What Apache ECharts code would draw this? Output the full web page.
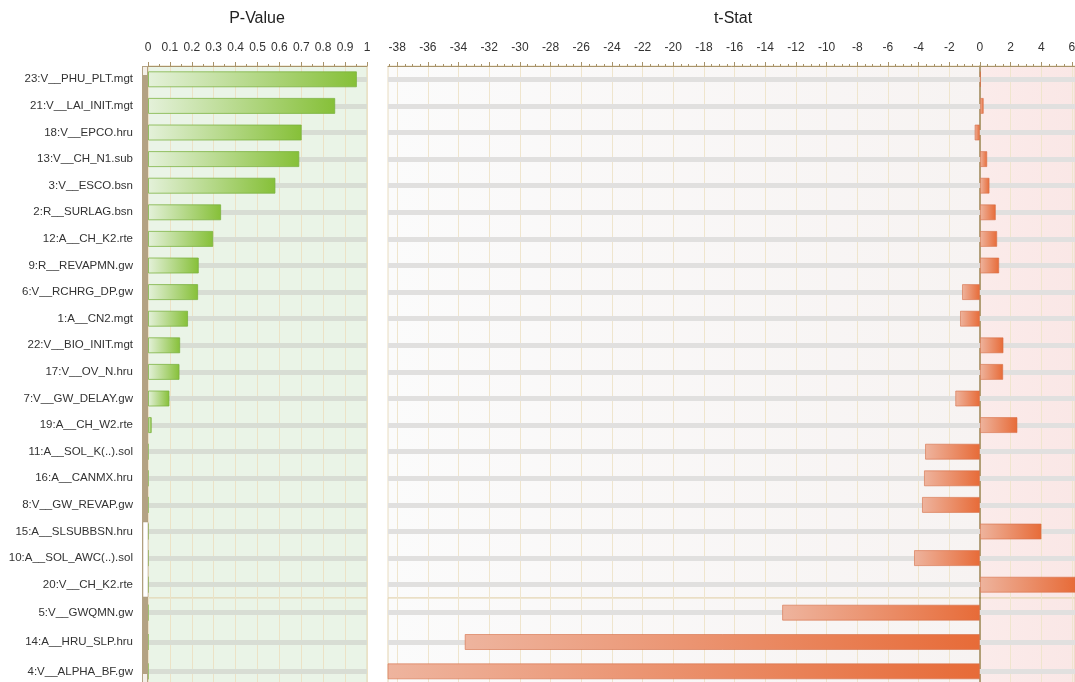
<!DOCTYPE html>
<html>
<head>
<meta charset="utf-8">
<script src="https://cdn.jsdelivr.net/npm/echarts@6/dist/echarts.min.js"></script>
<style>
	body{margin:0;background:#fff;}
	#main{width:1075px;height:682px;}
</style>
</head>
<body>
<div id="main"></div>
<script>
// parameters, top block (scroll area) and the 3 fixed rows at the bottom
var catTop = ['23:V__PHU_PLT.mgt','21:V__LAI_INIT.mgt','18:V__EPCO.hru','13:V__CH_N1.sub','3:V__ESCO.bsn',
	'2:R__SURLAG.bsn','12:A__CH_K2.rte','9:R__REVAPMN.gw','6:V__RCHRG_DP.gw','1:A__CN2.mgt',
	'22:V__BIO_INIT.mgt','17:V__OV_N.hru','7:V__GW_DELAY.gw','19:A__CH_W2.rte','11:A__SOL_K(..).sol',
	'16:A__CANMX.hru','8:V__GW_REVAP.gw','15:A__SLSUBBSN.hru','10:A__SOL_AWC(..).sol','20:V__CH_K2.rte'];
var catBottom = ['5:V__GWQMN.gw','14:A__HRU_SLP.hru','4:V__ALPHA_BF.gw'];

var pTop = [0.954,0.855,0.702,0.691,0.582,0.334,0.298,0.232,0.229,0.183,
	0.147,0.144,0.098,0.017,0.0004,0.0003,0.0002,0.0001,0.00002,0.000001];
var pBottom = [0,0,0];

var tTop = [0.06,0.25,-0.35,0.48,0.63,1.04,1.13,1.26,-1.17,-1.30,
	1.54,1.52,-1.61,2.45,-3.58,-3.65,-3.78,4.02,-4.30,6.8];
var tBottom = [-12.9,-33.6,-40.5];

var tLabels = [-38,-36,-34,-32,-30,-28,-26,-24,-22,-20,-18,-16,-14,-12,-10,-8,-6,-4,-2,0,2,4,6];
var T_MIN = -38.6, T_MAX = 6.2;

window.onload=function(){
	var myChart = echarts.init(document.getElementById('main'));
	var brown = '#a8936a';
	var font = 'Liberation Sans';

	var tMinor = [];
	for (var v = -38.5; v <= T_MAX; v += 0.5) {
		if (tLabels.indexOf(v) < 0) tMinor.push(v);
	}
	var zf = (0 - T_MIN) / (T_MAX - T_MIN);

	function track(cats, color){
		return {
			silent:true,
			z:1,
			symbol:['none','none'],
			label:{show:false},
			lineStyle:{color:color,width:5,type:'solid',opacity:1},
			data:cats.map(function(c){return {yAxis:c};})
		};
	}
	var green = {
		color:new echarts.graphic.LinearGradient(0,0,1,0,[{offset:0,color:'#e4f1da'},{offset:1,color:'#86c038'}]),
		borderColor:'rgba(120,176,60,0.75)',
		borderWidth:1
	};
	var red = {
		color:new echarts.graphic.LinearGradient(0,0,1,0,[{offset:0,color:'#eeb49e'},{offset:1,color:'#e76b38'}]),
		borderColor:'rgba(214,110,70,0.6)',
		borderWidth:1
	};
	var tBg = new echarts.graphic.LinearGradient(0,0,1,0,[
		{offset:0,color:'#fbfbfb'},{offset:zf,color:'#f7f3f2'},
		{offset:zf,color:'#fbebea'},{offset:1,color:'#fae7e6'}]);

	function catAxis(grid, cats, withLabels){
		return {
			type:'category',
			gridIndex:grid,
			data:cats,
			inverse:true,
			offset:withLabels ? 6 : 0,
			axisLine:{show:!withLabels,onZero:true,lineStyle:{color:'#9c8656',width:1.5}},
			axisTick:{show:withLabels,length:4,lineStyle:{color:brown}},
			axisLabel:{show:withLabels,margin:9,color:'#333',fontSize:11.5,fontFamily:font},
			splitLine:{show:false}
		};
	}

	myChart.setOption({
		animation:false,
		title:[{
			text:'P-Value',left:257,top:11,textAlign:'center',padding:0,
			textStyle:{fontSize:16,fontWeight:'normal',color:'#222',fontFamily:font}
		},{
			text:'t-Stat',left:733,top:11,textAlign:'center',padding:0,
			textStyle:{fontSize:16,fontWeight:'normal',color:'#222',fontFamily:font}
		}],
		grid:[
			{left:148,top:66,width:219,height:532,outerBoundsMode:'none',show:true,backgroundColor:'#eaf4e7',borderColor:'#e3d6b5',borderWidth:1},
			{left:148,top:598,width:219,height:88,outerBoundsMode:'none',show:true,backgroundColor:'#eaf4e7',borderColor:'#e3d6b5',borderWidth:1},
			{left:388,top:66,width:687,height:532,outerBoundsMode:'none',show:true,backgroundColor:tBg,borderColor:'#e8dcc0',borderWidth:1},
			{left:388,top:598,width:687,height:88,outerBoundsMode:'none',show:true,backgroundColor:tBg,borderColor:'#e3d3ae',borderWidth:1},
			{left:388,top:66,width:687,height:532,outerBoundsMode:'none',show:false}
		],
		xAxis:[{
			type:'value',gridIndex:0,position:'top',min:0,max:1,interval:0.1,
			axisLine:{show:true,lineStyle:{color:brown}},
			axisTick:{show:true,length:4,lineStyle:{color:brown}},
			minorTick:{show:true,splitNumber:2,length:2,lineStyle:{color:brown}},
			axisLabel:{margin:12,color:'#333',fontSize:12,fontFamily:font},
			splitLine:{show:true,lineStyle:{color:'#ece2c6'}}
		},{
			type:'value',gridIndex:1,position:'top',min:0,max:1,interval:0.1,
			axisLine:{show:false},axisTick:{show:false},axisLabel:{show:false},
			splitLine:{show:true,lineStyle:{color:'#ece2c6'}}
		},{
			type:'value',gridIndex:2,position:'top',min:T_MIN,max:T_MAX,
			axisLine:{show:true,onZero:false,lineStyle:{color:brown}},
			axisTick:{show:true,length:4,customValues:tLabels,lineStyle:{color:brown}},
			axisLabel:{margin:12,color:'#333',fontSize:12,fontFamily:font,customValues:tLabels},
			splitLine:{show:true,lineStyle:{color:'#efe5cd'}}
		},{
			type:'value',gridIndex:3,position:'top',min:T_MIN,max:T_MAX,
			axisLine:{show:false},
			axisTick:{show:false,customValues:tLabels},
			axisLabel:{show:false,customValues:tLabels},
			splitLine:{show:true,lineStyle:{color:'#efe5cd'}}
		},{
			type:'value',gridIndex:4,position:'top',min:T_MIN,max:T_MAX,
			axisLine:{show:false,onZero:false},
			axisTick:{show:true,length:2,customValues:tMinor,lineStyle:{color:brown}},
			axisLabel:{show:false,customValues:tMinor},
			splitLine:{show:false}
		}],
		yAxis:[
			catAxis(0,catTop,true),
			catAxis(1,catBottom,true),
			catAxis(2,catTop,false),
			catAxis(3,catBottom,false),
			{type:'value',gridIndex:4,show:false,min:0,max:1}
		],
		graphic:[
			{type:'rect',silent:true,z:100,shape:{x:142,y:66,width:6,height:616},style:{fill:'#b3a283'}},
			{type:'rect',silent:true,z:101,shape:{x:143,y:67,width:4,height:8},style:{fill:'#f4f0e8'}},
			{type:'rect',silent:true,z:101,shape:{x:143,y:522,width:5,height:75},style:{fill:'#ffffff',stroke:'#a89677',lineWidth:0.5}},
			{type:'rect',silent:true,z:101,shape:{x:143,y:674,width:4,height:8},style:{fill:'#f4f0e8'}}
		],
		series:[{
			name:'P-Value',type:'bar',xAxisIndex:0,yAxisIndex:0,
			data:pTop,barWidth:16,itemStyle:green,
			markLine:track(catTop,'#d8ddd4')
		},{
			name:'P-Value',type:'bar',xAxisIndex:1,yAxisIndex:1,
			data:pBottom,barWidth:16,itemStyle:green,
			markLine:track(catBottom,'#d8ddd4')
		},{
			name:'t-Stat',type:'bar',xAxisIndex:2,yAxisIndex:2,
			data:tTop,barWidth:16,itemStyle:red,clip:true,
			markLine:track(catTop,'#e1e0df')
		},{
			name:'t-Stat',type:'bar',xAxisIndex:3,yAxisIndex:3,
			data:tBottom,barWidth:16,itemStyle:red,clip:true,
			markLine:track(catBottom,'#e1e0df')
		}]
	});
}
</script>
</body>
</html>
